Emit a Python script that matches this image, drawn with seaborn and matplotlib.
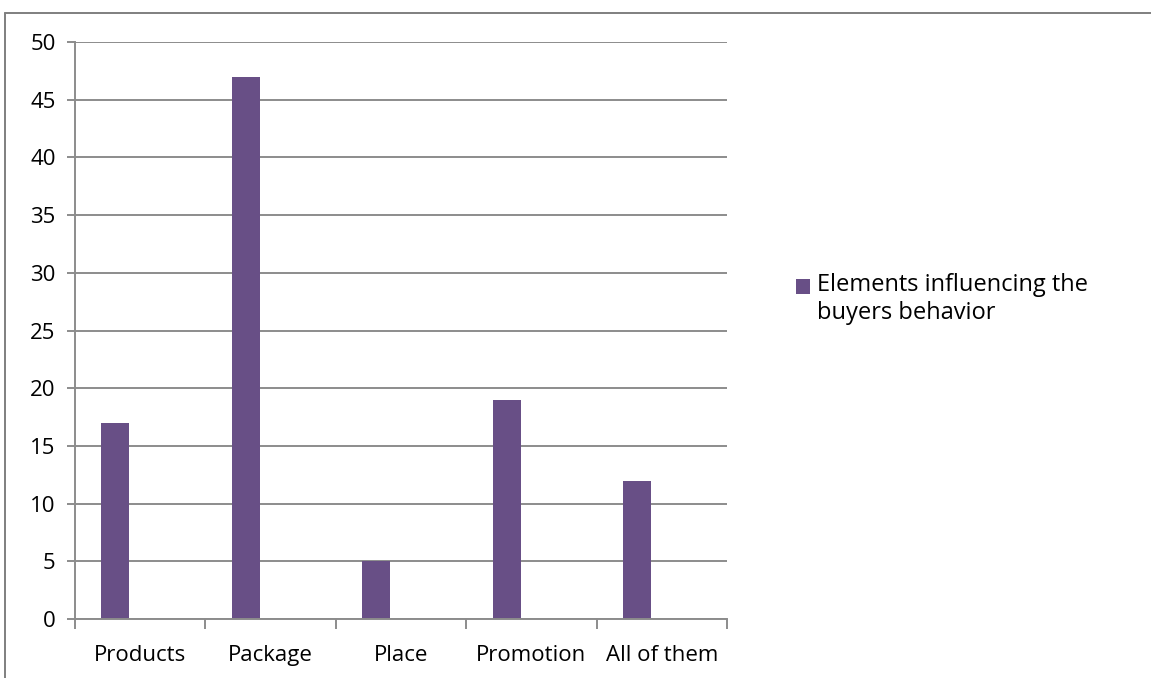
import matplotlib
matplotlib.use("Agg")
import matplotlib.pyplot as plt
from matplotlib.patches import Patch, Rectangle
from matplotlib.lines import Line2D
from matplotlib.legend_handler import HandlerPatch
import pandas as pd
import seaborn as sns

categories = ["Products", "Package", "Place", "Promotion", "All of them"]
values = [17, 47, 5, 19, 12]
series_name = "Elements influencing the\nbuyers behavior"
y_ticks = [0, 5, 10, 15, 20, 25, 30, 35, 40, 45, 50]

bar_color = "#684F86"
grid_color = "#8C8C8C"
font_family = ["Open Sans", "DejaVu Sans"]

sns.set_theme(style="white")
plt.rcParams["font.family"] = font_family
plt.rcParams["text.color"] = "black"

df = pd.DataFrame({"category": categories, "value": values})

fig = plt.figure(figsize=(11.51, 6.78), dpi=100)
ax = fig.add_axes([75 / 1151, 1 - 619 / 678, (727 - 75) / 1151, (619 - 42) / 678])

sns.barplot(data=df, x="category", y="value", order=categories, color=bar_color,
            width=0.215, saturation=1, ax=ax, errorbar=None)

# clustered-column layout: each bar sits in the left part of its category slot
for bar in ax.patches:
    bar.set_x(bar.get_x() - 0.19)
    bar.set_edgecolor("none")

ax.set_xlim(-0.5, len(categories) - 0.5)
ax.set_ylim(0, 50)
ax.set_yticks(y_ticks)
ax.yaxis.grid(True, color=grid_color, linewidth=1.4)
ax.set_axisbelow(True)
ax.set_xlabel("")
ax.set_ylabel("")

for side in ["top", "right"]:
    ax.spines[side].set_visible(False)
for side in ["left", "bottom"]:
    ax.spines[side].set_color(grid_color)
    ax.spines[side].set_linewidth(1.4)

ax.tick_params(axis="y", which="major", left=True, length=6, width=1.4,
               color=grid_color, labelsize=16, pad=8, labelcolor="black")
ax.set_xticks(range(len(categories)))
ax.set_xticklabels(categories)
ax.set_xticks([i - 0.5 for i in range(len(categories) + 1)], minor=True)
ax.tick_params(axis="x", which="major", length=0, labelsize=16, pad=19, labelcolor="black")
ax.tick_params(axis="x", which="minor", bottom=True, length=7, width=1.4, color=grid_color)


def top_line_square(legend, orig_handle, xdescent, ydescent, width, height, fontsize):
    # align the swatch with the first line of a two-line label
    return Rectangle((-xdescent, -ydescent + 0.55 * fontsize), width, height)


handle = Patch(facecolor=bar_color, edgecolor="none")
fig.legend(handles=[handle], labels=[series_name], loc="upper left",
           bbox_to_anchor=(775 / 1151, 1 - 252 / 678), frameon=False,
           prop={"family": font_family, "size": 17}, labelcolor="black",
           handlelength=0.58, handleheight=0.58, handletextpad=0.3,
           labelspacing=0.2,
           handler_map={Patch: HandlerPatch(patch_func=top_line_square)})

# outer chart frame
fig.add_artist(Line2D([5 / 1151, 5 / 1151], [0, 1 - 13 / 678], transform=fig.transFigure,
                      color="#7F7F7F", linewidth=1.4))
fig.add_artist(Line2D([5 / 1151, 1], [1 - 13 / 678, 1 - 13 / 678], transform=fig.transFigure,
                      color="#7F7F7F", linewidth=1.4))

fig.savefig("out.png", dpi=100)
